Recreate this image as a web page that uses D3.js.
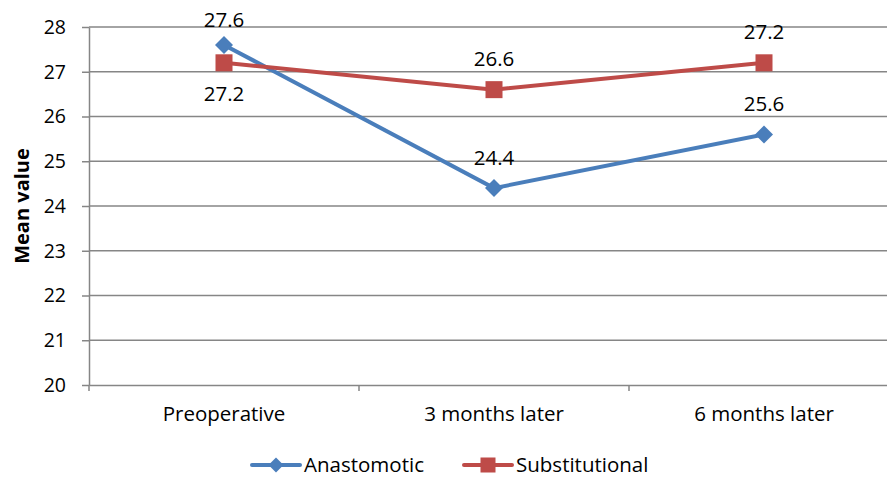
<!DOCTYPE html>
<meta charset="utf-8">
<style>
  html, body { margin: 0; padding: 0; background: #fff; }
  svg { display: block; }
  text { font-family: "Open Sans", "Liberation Sans", sans-serif; fill: #000; }
  .grid line { stroke: #868686; stroke-width: 1.5; }
  .axis path, .axis line { stroke: #868686; stroke-width: 1.5; }
</style>
<div id="chart"></div>
<script src="https://cdnjs.cloudflare.com/ajax/libs/d3/7.8.5/d3.min.js"></script>
<script>
var categories = ["Preoperative", "3 months later", "6 months later"];
var anastomotic = [27.6, 24.4, 25.6];
var substitutional = [27.2, 26.6, 27.2];
var yTicks = [20, 21, 22, 23, 24, 25, 26, 27, 28];

var width = 887, height = 477;
var plotLeft = 89, plotTop = 27, plotBottom = 385, bandW = 270;
var fs = "20.5px";

var svg = d3.select("#chart").append("svg")
  .attr("width", width)
  .attr("height", height);

var x = d3.scaleBand().domain(categories).range([plotLeft, plotLeft + bandW * 3]);
var y = d3.scaleLinear().domain([20, 28]).range([plotBottom, plotTop]);
var cx = function(d) { return x(d) + x.bandwidth() / 2; };

// grid
svg.append("g").attr("class", "grid")
  .selectAll("line").data(yTicks.slice(1)).enter().append("line")
  .attr("x1", plotLeft).attr("x2", plotLeft + bandW * 3)
  .attr("y1", d => y(d)).attr("y2", d => y(d));

// y axis
var yAxis = svg.append("g").attr("class", "axis")
  .attr("transform", "translate(" + plotLeft + ",0)")
  .call(d3.axisLeft(y).tickValues(yTicks).tickSize(7).tickPadding(16).tickSizeOuter(0));
yAxis.selectAll("text").style("font-size", "19.5px");

// x axis
var xAxis = svg.append("g").attr("class", "axis")
  .attr("transform", "translate(0," + plotBottom + ")")
  .call(d3.axisBottom(x).tickSize(0).tickPadding(21).tickSizeOuter(0));
xAxis.selectAll("text").style("font-size", fs);
// category boundary ticks
svg.append("g").attr("class", "axis")
  .selectAll("line").data(d3.range(0, 4)).enter().append("line")
  .attr("x1", d => plotLeft + d * bandW).attr("x2", d => plotLeft + d * bandW)
  .attr("y1", plotBottom).attr("y2", plotBottom + 6);

svg.append("text")
  .attr("transform", "translate(22," + ((plotTop + plotBottom) / 2) + ") rotate(-90)")
  .attr("text-anchor", "middle").attr("dy", "0.35em")
  .style("font-size", "20px").style("font-weight", "bold")
  .text("Mean value");

var line = d3.line().x((d, i) => cx(categories[i])).y(d => y(d));

var blue = "#4A7EBB", red = "#BE4B48";

function diamond(g, px, py, r) {
  g.append("path")
    .attr("d", "M" + px + "," + (py - r) + "L" + (px + r) + "," + py + "L" + px + "," + (py + r) + "L" + (px - r) + "," + py + "Z")
    .attr("fill", blue);
}
function square(g, px, py, r) {
  g.append("rect").attr("x", px - r).attr("y", py - r)
    .attr("width", 2 * r).attr("height", 2 * r).attr("fill", red);
}

svg.append("path").datum(anastomotic).attr("d", line)
  .attr("fill", "none").attr("stroke", blue).attr("stroke-width", 4);
anastomotic.forEach(function(v, i) { diamond(svg, cx(categories[i]), y(v), 9); });

svg.append("path").datum(substitutional).attr("d", line)
  .attr("fill", "none").attr("stroke", red).attr("stroke-width", 4);
substitutional.forEach(function(v, i) { square(svg, cx(categories[i]), y(v), 8.5); });

// data labels
var aOff = [-25, -30, -31];
var sOff = [31, -31, -31];
anastomotic.forEach(function(v, i) {
  svg.append("text").attr("x", cx(categories[i])).attr("y", y(v) + aOff[i])
    .attr("text-anchor", "middle").attr("dy", "0.35em").style("font-size", fs)
    .text(v.toFixed(1));
});
substitutional.forEach(function(v, i) {
  svg.append("text").attr("x", cx(categories[i])).attr("y", y(v) + sOff[i])
    .attr("text-anchor", "middle").attr("dy", "0.35em").style("font-size", fs)
    .text(v.toFixed(1));
});

// legend
var legend = [
  { name: "Anastomotic", color: blue, x: 252, mark: diamond },
  { name: "Substitutional", color: red, x: 464, mark: square }
];
var ly = 465;
legend.forEach(function(l) {
  svg.append("line").attr("x1", l.x).attr("x2", l.x + 48)
    .attr("y1", ly).attr("y2", ly).attr("stroke", l.color).attr("stroke-width", 4)
    .attr("stroke-linecap", "round");
  l.mark(svg, l.x + 24, ly, 7.5);
  svg.append("text").attr("x", l.x + 52).attr("y", ly).attr("dy", "0.35em")
    .style("font-size", fs).text(l.name);
});
</script>
